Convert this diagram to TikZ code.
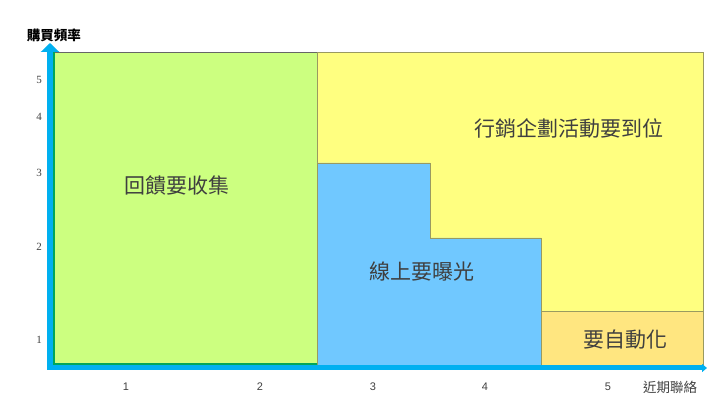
\documentclass[tikz,border=0pt]{standalone}
\usepackage{fontspec}
\newfontfamily\cjk{Noto Sans CJK TC}
\newfontfamily\tsans{Liberation Sans}
\newfontfamily\tserif{Liberation Serif}
\usetikzlibrary{arrows.meta}
\definecolor{axisblue}{HTML}{00B0F0}
\definecolor{zonegreen}{HTML}{CCFF80}
\definecolor{zoneyellow}{HTML}{FFFF80}
\definecolor{zoneblue}{HTML}{70C8FF}
\definecolor{zonegold}{HTML}{FFE680}
\definecolor{zoneedge}{HTML}{9A9A60}
\definecolor{lbltext}{HTML}{3F3F3F}
\tikzset{
  zonebox/.style={fill=#1, draw=zoneedge, line width=0.8pt},
  zonelbl/.style={font=\cjk\fontsize{21}{24}\selectfont, text=lbltext, inner sep=0pt},
  axisline/.style={draw=axisblue, line width=6pt},
  yticklbl/.style={font=\tserif\fontsize{11}{12}\selectfont, text=black!75, inner sep=0pt},
  xticklbl/.style={font=\tsans\fontsize{11}{12}\selectfont, text=black!75, inner sep=0pt},
  axislbl/.style={font=\cjk\fontsize{13.5}{15}\selectfont, inner sep=0pt}
}

\begin{document}
\begin{tikzpicture}[x=1pt,y=-1pt]
  \useasboundingbox (0,0) rectangle (728,411);

  % zones
  \path[zonebox=zoneyellow] (317,52) rectangle (703,366);
  \path[zonebox=zonegreen, draw=none] (55,52) rectangle (317,366);
  \draw[draw=black!60, line width=0.8pt] (55,52) -- (317,52);
  \draw[draw=teal!70!green, line width=1.5pt] (54,52) -- (54,364) -- (317,364);
  \path[zonebox=zoneblue] (317,163) -- (430,163) -- (430,238) -- (541,238)
    -- (541,366) -- (317,366) -- cycle;
  \path[zonebox=zonegold] (541,311) rectangle (703,366);

  \node[zonelbl] (feedback) at (177,185) {回饋要收集};
  \node[zonelbl] (campaign) at (569,128) {行銷企劃活動要到位};
  \node[zonelbl] (exposure) at (422,272) {線上要曝光};
  \node[zonelbl] (automate) at (625,340) {要自動化};

  % axes
  \coordinate (origin) at (50,368);
  \coordinate (ytop) at (50,43);
  \coordinate (xend) at (707,368);
  \draw[axisline, -{Triangle[length=9pt,width=18pt]}] ([yshift=3pt]origin) -- (ytop);
  \draw[axisline, line width=5pt, -{Triangle[length=5pt,width=8pt]}] ([xshift=-3pt]origin) -- (xend);

  \foreach \v/\yy in {1/340,2/247,3/173,4/117,5/80}
    \node[yticklbl] (ytick\v) at (39,\yy) {\v};
  \foreach \v/\xx in {1/126,2/260,3/373,4/485,5/608}
    \node[xticklbl] (xtick\v) at (\xx,387) {\v};

  \node[axislbl, font=\cjk\bfseries\fontsize{13.5}{15}\selectfont] (freq) at (54,35) {購買頻率};
  \node[axislbl, text=black!75] (recency) at (670,387) {近期聯絡};
\end{tikzpicture}
\end{document}
